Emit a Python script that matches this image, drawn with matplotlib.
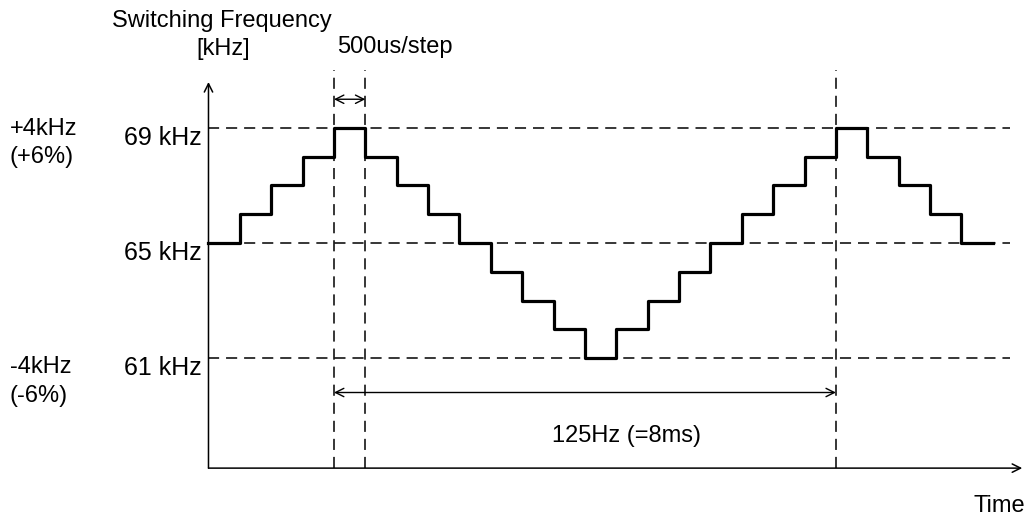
import numpy as np
import matplotlib.pyplot as plt

plt.rcParams['font.family'] = ['Liberation Sans', 'DejaVu Sans']
plt.rcParams['lines.scale_dashes'] = False

# step levels (kHz), one per 500us step
steps_khz = [65, 66, 67, 68, 69, 68, 67, 66, 65, 64, 63, 62, 61,
             62, 63, 64, 65, 66, 67, 68, 69, 68, 67, 66, 65]
step_ms = 0.5
ref_levels = [69, 65, 61]
ref_labels = ['69 kHz', '65 kHz', '61 kHz']
period_marks = [2.0, 2.5, 10.0]

fig = plt.figure(figsize=(10.26, 5.18), dpi=100)
ax = fig.add_axes([0, 0, 1, 1])
ax.set_xlim(-3.323, 13.030)
ax.set_ylim(55.435, 73.452)
ax.axis('off')

t = np.arange(len(steps_khz) + 1) * step_ms
f = steps_khz + [steps_khz[-1]]
ax.step(t, f, where='post', color='black', lw=2.3, zorder=3)

x_base = 57.17
dash = (8, 5)
for lv in ref_levels:
    ax.plot([0, 12.78], [lv, lv], color='black', lw=1.1, dashes=dash)
for tm in period_marks:
    ax.plot([tm, tm], [x_base, 71.02], color='black', lw=1.1, dashes=dash)

arrow = dict(arrowstyle='->,head_length=0.6,head_width=0.3', color='black', lw=1.1,
             shrinkA=0, shrinkB=0)
ax.annotate('', xy=(0, 70.6), xytext=(0, x_base), arrowprops=arrow)
ax.annotate('', xy=(12.97, x_base), xytext=(0, x_base), arrowprops=arrow)

darrow = dict(arrowstyle='<->,head_length=0.6,head_width=0.3', color='black', lw=1.0,
              shrinkA=0, shrinkB=0)
ax.annotate('', xy=(2.5, 70.0), xytext=(2.0, 70.0), arrowprops=darrow)
ax.annotate('', xy=(10.0, 59.8), xytext=(2.0, 59.8), arrowprops=darrow)

fs = 17
for lv, lb in zip(ref_levels, ref_labels):
    ax.text(-0.11, lv - 0.59, lb, ha='right', va='baseline', fontsize=18)

ax.text(-3.17, 68.76, '+4kHz', ha='left', va='baseline', fontsize=fs)
ax.text(-3.17, 67.78, '(+6%)', ha='left', va='baseline', fontsize=fs)
ax.text(-3.17, 60.48, '-4kHz', ha='left', va='baseline', fontsize=fs)
ax.text(-3.17, 59.47, '(-6%)', ha='left', va='baseline', fontsize=fs)

ax.text(-1.53, 72.51, 'Switching Frequency', ha='left', va='baseline', fontsize=fs)
ax.text(-0.2, 71.54, '[kHz]', ha='left', va='baseline', fontsize=fs)
ax.text(2.05, 71.61, '500us/step', ha='left', va='baseline', fontsize=fs)
ax.text(6.67, 58.08, '125Hz (=8ms)', ha='center', va='baseline', fontsize=fs)
ax.text(13.02, 55.64, 'Time', ha='right', va='baseline', fontsize=fs)

fig.savefig('out.png', dpi=100)
